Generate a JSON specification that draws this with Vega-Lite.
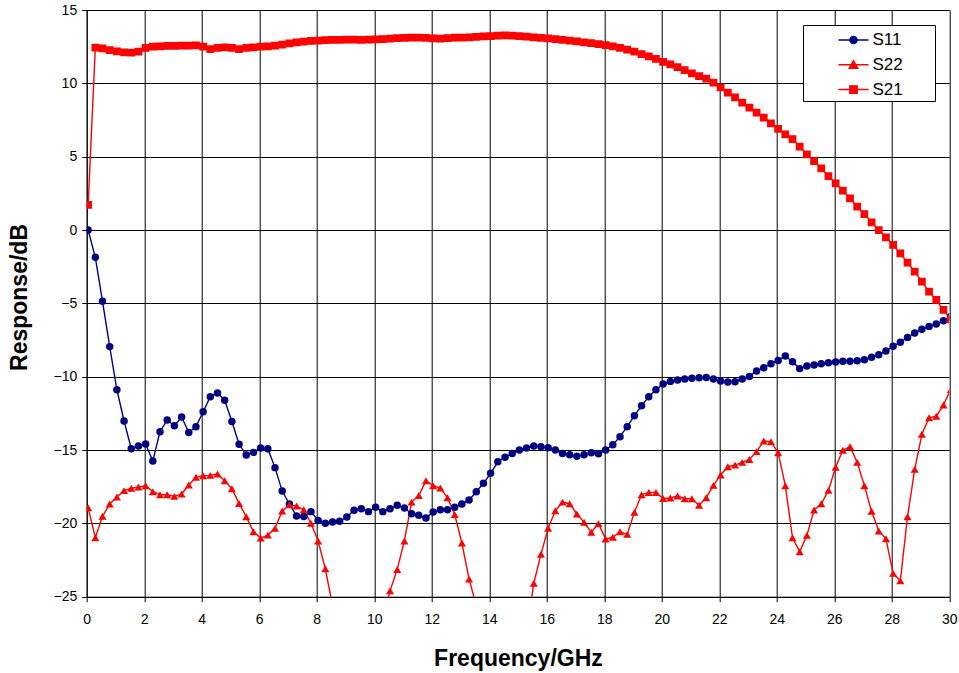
{
  "$schema": "https://vega.github.io/schema/vega-lite/v6.json",
  "width": 862.5,
  "height": 586.7,
  "autosize": {"type": "none"},
  "padding": {"left": 86.7, "top": 10, "right": 9.8, "bottom": 76.3},
  "background": "white",
  "data": {"values": [
    {"f":0.05,"S11":0,"S22":-18.93,"S21":1.72},
    {"f":0.3,"S11":-1.86,"S22":-20.98,"S21":12.43},
    {"f":0.55,"S11":-4.86,"S22":-19.52,"S21":12.39},
    {"f":0.8,"S11":-7.95,"S22":-18.68,"S21":12.27},
    {"f":1.05,"S11":-10.89,"S22":-18.2,"S21":12.18},
    {"f":1.3,"S11":-13.02,"S22":-17.77,"S21":12.11},
    {"f":1.55,"S11":-14.91,"S22":-17.61,"S21":12.09},
    {"f":1.8,"S11":-14.73,"S22":-17.52,"S21":12.16},
    {"f":2.05,"S11":-14.59,"S22":-17.43,"S21":12.41},
    {"f":2.3,"S11":-15.75,"S22":-17.84,"S21":12.5},
    {"f":2.55,"S11":-13.75,"S22":-18.05,"S21":12.52},
    {"f":2.8,"S11":-12.95,"S22":-18.05,"S21":12.55},
    {"f":3.05,"S11":-13.34,"S22":-18.16,"S21":12.55},
    {"f":3.3,"S11":-12.75,"S22":-18.0,"S21":12.57},
    {"f":3.55,"S11":-13.8,"S22":-17.39,"S21":12.57},
    {"f":3.8,"S11":-13.41,"S22":-16.86,"S21":12.59},
    {"f":4.05,"S11":-12.39,"S22":-16.75,"S21":12.5},
    {"f":4.3,"S11":-11.36,"S22":-16.73,"S21":12.34},
    {"f":4.55,"S11":-11.11,"S22":-16.64,"S21":12.41},
    {"f":4.8,"S11":-11.61,"S22":-17.09,"S21":12.45},
    {"f":5.05,"S11":-13.05,"S22":-17.64,"S21":12.41},
    {"f":5.3,"S11":-14.61,"S22":-18.64,"S21":12.34},
    {"f":5.55,"S11":-15.34,"S22":-19.55,"S21":12.41},
    {"f":5.8,"S11":-15.16,"S22":-20.57,"S21":12.45},
    {"f":6.05,"S11":-14.86,"S22":-21.0,"S21":12.5},
    {"f":6.3,"S11":-14.91,"S22":-20.8,"S21":12.52},
    {"f":6.55,"S11":-16.2,"S22":-20.34,"S21":12.57},
    {"f":6.8,"S11":-17.8,"S22":-19.16,"S21":12.64},
    {"f":7.05,"S11":-18.68,"S22":-18.73,"S21":12.73},
    {"f":7.3,"S11":-19.5,"S22":-18.82,"S21":12.8},
    {"f":7.55,"S11":-19.53,"S22":-19.07,"S21":12.84},
    {"f":7.8,"S11":-19.2,"S22":-19.99,"S21":12.89},
    {"f":8.05,"S11":-19.8,"S22":-21.2,"S21":12.92},
    {"f":8.3,"S11":-20.0,"S22":-23.1,"S21":12.94},
    {"f":8.55,"S11":-19.9,"S22":-25.6,"S21":12.96},
    {"f":8.8,"S11":-19.86,"S22":-27.5,"S21":12.97},
    {"f":9.05,"S11":-19.57,"S22":-29,"S21":12.98},
    {"f":9.3,"S11":-19.1,"S22":-30,"S21":12.98},
    {"f":9.55,"S11":-19.0,"S22":-30.5,"S21":12.97},
    {"f":9.8,"S11":-19.2,"S22":-30,"S21":12.98},
    {"f":10.05,"S11":-18.9,"S22":-29,"S21":12.99},
    {"f":10.3,"S11":-19.2,"S22":-26.6,"S21":13.02},
    {"f":10.55,"S11":-19.0,"S22":-24.6,"S21":13.05},
    {"f":10.8,"S11":-18.77,"S22":-23.14,"S21":13.08},
    {"f":11.05,"S11":-18.95,"S22":-21.2,"S21":13.1},
    {"f":11.3,"S11":-19.34,"S22":-18.55,"S21":13.12},
    {"f":11.55,"S11":-19.45,"S22":-18.1,"S21":13.12},
    {"f":11.8,"S11":-19.64,"S22":-17.1,"S21":13.1},
    {"f":12.05,"S11":-19.23,"S22":-17.43,"S21":13.06},
    {"f":12.3,"S11":-19.07,"S22":-17.59,"S21":13.05},
    {"f":12.55,"S11":-19.07,"S22":-18.25,"S21":13.08},
    {"f":12.8,"S11":-18.9,"S22":-19.39,"S21":13.11},
    {"f":13.05,"S11":-18.68,"S22":-21.34,"S21":13.12},
    {"f":13.3,"S11":-18.4,"S22":-23.8,"S21":13.14},
    {"f":13.55,"S11":-17.84,"S22":-25.6,"S21":13.17},
    {"f":13.8,"S11":-17.27,"S22":-28,"S21":13.2},
    {"f":14.05,"S11":-16.59,"S22":-30,"S21":13.22},
    {"f":14.3,"S11":-15.8,"S22":-31,"S21":13.25},
    {"f":14.55,"S11":-15.5,"S22":-31,"S21":13.27},
    {"f":14.8,"S11":-15.23,"S22":-30,"S21":13.26},
    {"f":15.05,"S11":-15.0,"S22":-29,"S21":13.22},
    {"f":15.3,"S11":-14.86,"S22":-27.5,"S21":13.18},
    {"f":15.55,"S11":-14.73,"S22":-24.09,"S21":13.14},
    {"f":15.8,"S11":-14.77,"S22":-22.11,"S21":13.1},
    {"f":16.05,"S11":-14.84,"S22":-20.34,"S21":13.07},
    {"f":16.3,"S11":-15.0,"S22":-19.14,"S21":13.02},
    {"f":16.55,"S11":-15.23,"S22":-18.55,"S21":12.97},
    {"f":16.8,"S11":-15.32,"S22":-18.66,"S21":12.92},
    {"f":17.05,"S11":-15.43,"S22":-19.36,"S21":12.86},
    {"f":17.3,"S11":-15.32,"S22":-19.93,"S21":12.8},
    {"f":17.55,"S11":-15.18,"S22":-20.61,"S21":12.74},
    {"f":17.8,"S11":-15.25,"S22":-20.02,"S21":12.68},
    {"f":18.05,"S11":-15.0,"S22":-21.07,"S21":12.61},
    {"f":18.3,"S11":-14.64,"S22":-20.95,"S21":12.52},
    {"f":18.55,"S11":-14.09,"S22":-20.57,"S21":12.42},
    {"f":18.8,"S11":-13.41,"S22":-20.75,"S21":12.3},
    {"f":19.05,"S11":-12.66,"S22":-19.25,"S21":12.16},
    {"f":19.3,"S11":-11.98,"S22":-18.05,"S21":12.0},
    {"f":19.55,"S11":-11.36,"S22":-17.89,"S21":11.84},
    {"f":19.8,"S11":-10.89,"S22":-17.89,"S21":11.66},
    {"f":20.05,"S11":-10.5,"S22":-18.3,"S21":11.46},
    {"f":20.3,"S11":-10.32,"S22":-18.27,"S21":11.29},
    {"f":20.55,"S11":-10.23,"S22":-18.14,"S21":11.1},
    {"f":20.8,"S11":-10.16,"S22":-18.32,"S21":10.9},
    {"f":21.05,"S11":-10.11,"S22":-18.32,"S21":10.68},
    {"f":21.3,"S11":-10.07,"S22":-18.77,"S21":10.5},
    {"f":21.55,"S11":-10.05,"S22":-18.25,"S21":10.32},
    {"f":21.8,"S11":-10.16,"S22":-17.41,"S21":10.05},
    {"f":22.05,"S11":-10.3,"S22":-16.7,"S21":9.73},
    {"f":22.3,"S11":-10.36,"S22":-16.14,"S21":9.36},
    {"f":22.55,"S11":-10.34,"S22":-16.03,"S21":9.05},
    {"f":22.8,"S11":-10.16,"S22":-15.84,"S21":8.68},
    {"f":23.05,"S11":-9.98,"S22":-15.64,"S21":8.34},
    {"f":23.3,"S11":-9.61,"S22":-15.11,"S21":8.0},
    {"f":23.55,"S11":-9.39,"S22":-14.39,"S21":7.66},
    {"f":23.8,"S11":-9.11,"S22":-14.43,"S21":7.27},
    {"f":24.05,"S11":-8.89,"S22":-15.18,"S21":6.89},
    {"f":24.3,"S11":-8.59,"S22":-17.43,"S21":6.52},
    {"f":24.55,"S11":-8.98,"S22":-20.98,"S21":6.2},
    {"f":24.8,"S11":-9.45,"S22":-21.93,"S21":5.68},
    {"f":25.05,"S11":-9.27,"S22":-20.82,"S21":5.16},
    {"f":25.3,"S11":-9.2,"S22":-19.09,"S21":4.7},
    {"f":25.55,"S11":-9.11,"S22":-18.66,"S21":4.2},
    {"f":25.8,"S11":-9.05,"S22":-17.75,"S21":3.68},
    {"f":26.05,"S11":-9.0,"S22":-16.18,"S21":3.18},
    {"f":26.3,"S11":-8.95,"S22":-15.02,"S21":2.68},
    {"f":26.55,"S11":-8.95,"S22":-14.77,"S21":2.16},
    {"f":26.8,"S11":-8.91,"S22":-15.84,"S21":1.59},
    {"f":27.05,"S11":-8.84,"S22":-17.43,"S21":1.09},
    {"f":27.3,"S11":-8.68,"S22":-19.18,"S21":0.52},
    {"f":27.55,"S11":-8.5,"S22":-20.52,"S21":0.0},
    {"f":27.8,"S11":-8.25,"S22":-21.05,"S21":-0.5},
    {"f":28.05,"S11":-7.93,"S22":-23.41,"S21":-1.02},
    {"f":28.3,"S11":-7.66,"S22":-23.91,"S21":-1.59},
    {"f":28.55,"S11":-7.32,"S22":-19.55,"S21":-2.23},
    {"f":28.8,"S11":-7.02,"S22":-16.32,"S21":-2.84},
    {"f":29.05,"S11":-6.77,"S22":-13.93,"S21":-3.52},
    {"f":29.3,"S11":-6.57,"S22":-12.8,"S21":-4.2},
    {"f":29.55,"S11":-6.41,"S22":-12.7,"S21":-4.77},
    {"f":29.8,"S11":-6.18,"S22":-11.93,"S21":-5.45},
    {"f":30.05,"S11":-5.91,"S22":-10.89,"S21":-6.1},
    {"f":30.3,"S11":-5.6,"S22":-10.0,"S21":-6.8}
  ]},
  "transform": [{"fold": ["S11", "S22", "S21"], "as": ["series", "v"]}],
  "encoding": {
    "x": {
      "field": "f", "type": "quantitative",
      "scale": {"domain": [0, 30], "nice": false, "zero": false},
      "axis": {
        "title": "Frequency/GHz",
        "values": [0, 2, 4, 6, 8, 10, 12, 14, 16, 18, 20, 22, 24, 26, 28, 30],
        "labelPadding": 11, "labelFlush": false, "labelOverlap": false,
        "titleY": 68.7, "titleBaseline": "alphabetic"
      }
    },
    "y": {
      "field": "v", "type": "quantitative",
      "scale": {"domain": [-25, 15], "nice": false, "zero": false},
      "axis": {
        "title": "Response/dB",
        "values": [-25, -20, -15, -10, -5, 0, 5, 10, 15],
        "labelPadding": 5, "labelFlush": false, "labelOverlap": false,
        "titleX": -59.7, "titleY": 287, "titleAngle": -90, "titleBaseline": "alphabetic", "titleAlign": "center"
      }
    }
  },
  "layer": [
    {"transform": [{"filter": "datum.series === 'S11'"}], "mark": {"type": "line", "clip": true, "strokeWidth": 1.4, "color": "#000080"}},
    {"transform": [{"filter": "datum.series === 'S22'"}], "mark": {"type": "line", "clip": true, "strokeWidth": 1.4, "color": "#ff0000"}},
    {"transform": [{"filter": "datum.series === 'S21'"}], "mark": {"type": "line", "clip": true, "strokeWidth": 1.4, "color": "#ff0000"}},
    {"transform": [{"filter": "datum.series === 'S11'"}], "mark": {"type": "point", "clip": true, "filled": true, "opacity": 1, "size": 56, "shape": "circle", "color": "#000080"}},
    {"transform": [{"filter": "datum.series === 'S22'"}], "mark": {"type": "point", "clip": true, "filled": true, "opacity": 1, "size": 64, "shape": "triangle-up", "color": "#ff0000"}},
    {"transform": [{"filter": "datum.series === 'S21'"}], "mark": {"type": "point", "clip": true, "filled": true, "opacity": 1, "size": 60, "shape": "square", "color": "#ff0000"}},
    {
      "transform": [{"filter": "datum.f < 1"}],
      "mark": {"type": "point", "clip": true, "filled": true, "opacity": 0, "strokeWidth": 1.4},
      "encoding": {
        "fill": {
          "field": "series", "type": "nominal",
          "scale": {"domain": ["S11", "S22", "S21"], "range": ["#000080", "#ff0000", "#ff0000"]},
          "legend": {
            "title": null,
            "orient": "none", "legendX": 716.3, "legendY": 15,
            "strokeColor": "#000000", "fillColor": "#ffffff", "padding": 3.5,
            "symbolSize": 441, "symbolOffset": 35.5, "labelOffset": 7.5, "rowPadding": 4.75,
            "symbolStrokeWidth": 1.4, "symbolOpacity": 1,
            "labelFont": "Liberation Sans", "labelFontSize": 17, "labelColor": "#000000", "labelBaseline": "middle",
            "labelExpr": "datum.label + '\u00a0\u00a0\u00a0\u00a0\u00a0\u00a0\u200b'"
          }
        },
        "stroke": {
          "field": "series", "type": "nominal",
          "scale": {"domain": ["S11", "S22", "S21"], "range": ["#000080", "#ff0000", "#ff0000"]},
          "legend": {
            "title": null,
            "orient": "none", "legendX": 716.3, "legendY": 15,
            "strokeColor": "#000000", "fillColor": "#ffffff", "padding": 3.5,
            "symbolSize": 441, "symbolOffset": 35.5, "labelOffset": 7.5, "rowPadding": 4.75,
            "symbolStrokeWidth": 1.4, "symbolOpacity": 1,
            "labelFont": "Liberation Sans", "labelFontSize": 17, "labelColor": "#000000", "labelBaseline": "middle",
            "labelExpr": "datum.label + '\u00a0\u00a0\u00a0\u00a0\u00a0\u00a0\u200b'"
          }
        },
        "shape": {
          "field": "series", "type": "nominal",
          "scale": {"domain": ["S11", "S22", "S21"], "range": [
            "M-1.43,0H1.43M-0.34,0A0.34,0.34,0,1,1,0.34,0A0.34,0.34,0,1,1,-0.34,0Z",
            "M-1.43,0H1.43M0,-0.38L0.41,0.33L-0.41,0.33Z",
            "M-1.43,0H1.43M-0.35,-0.35H0.35V0.35H-0.35Z"
          ]},
          "legend": {
            "title": null,
            "orient": "none", "legendX": 716.3, "legendY": 15,
            "strokeColor": "#000000", "fillColor": "#ffffff", "padding": 3.5,
            "symbolSize": 441, "symbolOffset": 35.5, "labelOffset": 7.5, "rowPadding": 4.75,
            "symbolStrokeWidth": 1.4, "symbolOpacity": 1,
            "labelFont": "Liberation Sans", "labelFontSize": 17, "labelColor": "#000000", "labelBaseline": "middle",
            "labelExpr": "datum.label + '\u00a0\u00a0\u00a0\u00a0\u00a0\u00a0\u200b'"
          }
        }
      }
    }
  ],
  "config": {
    "font": "Liberation Sans",
    "view": {"stroke": null},
    "axis": {
      "labelFont": "Liberation Sans", "labelFontSize": 14, "labelColor": "#000000",
      "titleFont": "Liberation Sans", "titleFontSize": 23, "titleFontWeight": "bold", "titleColor": "#000000",
      "grid": true, "gridColor": "#000000", "gridOpacity": 1, "gridWidth": 1,
      "domainColor": "#000000", "domainWidth": 1,
      "tickColor": "#000000", "tickSize": 5, "tickWidth": 1
    }
  }
}
